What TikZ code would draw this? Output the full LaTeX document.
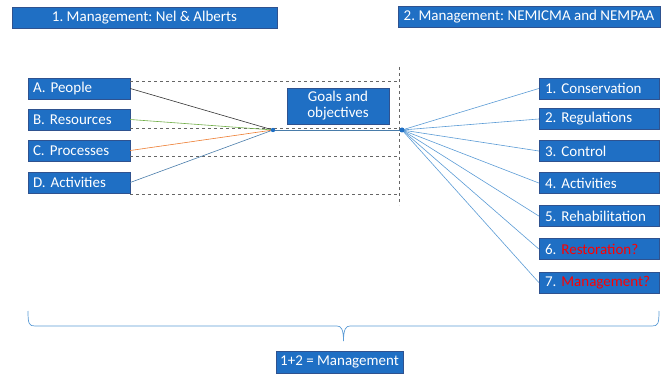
\documentclass[tikz,border=0pt]{standalone}
\usepackage{fontspec}
\setmainfont{Carlito}
\usepackage{xcolor}
\definecolor{boxblue}{HTML}{1F6FC4}
\definecolor{boxline}{HTML}{2F528F}
\definecolor{linkblue}{HTML}{5B9BD5}
\definecolor{linkgreen}{HTML}{70AD47}
\definecolor{linkorange}{HTML}{ED7D31}
\frenchspacing

\begin{document}
\begin{tikzpicture}[x=1pt,y=-1pt,
  box/.style={draw=boxline,fill=boxblue,text=white,font=\fontsize{15}{16}\selectfont,
    minimum height=21pt,inner sep=0pt},
  leftbox/.style={box,text width=92pt,minimum width=102pt,align=left},
  rightbox/.style={box,text width=108pt,minimum width=120pt,align=left},
  guide/.style={gray!80!black,dashed,line width=0.6pt},
  link/.style={line width=0.6pt}]
\useasboundingbox (0,0) rectangle (667,374);

\node[box,minimum width=265pt] (head1) at (144.5,17.5) {1. Management: Nel \& Alberts};
\node[box,minimum width=262pt] (head2) at (529,17) {2. Management: NEMICMA and NEMPAA};

\node[leftbox] (A) at (79,88.5) {A. People};
\node[leftbox] (B) at (79,119.5) {B. Resources};
\node[leftbox] (C) at (79,150.5) {C. Processes};
\node[leftbox] (D) at (79,182.5) {D. Activities};

\node[box,minimum width=102pt,minimum height=36pt,align=center] (goals) at (338,106) {Goals and\\objectives};

\node[rightbox] (r1) at (599,88.5) {1. Conservation};
\node[rightbox] (r2) at (599,119) {2. Regulations};
\node[rightbox] (r3) at (599,151) {3. Control};
\node[rightbox] (r4) at (599,183) {4. Activities};
\node[rightbox] (r5) at (599,216) {5. Rehabilitation};
\node[rightbox] (r6) at (599,249) {6. {\color{red}Restoration?}};
\node[rightbox] (r7) at (599,282.5) {7. {\color{red}Management?}};

\node[box,minimum width=127pt,minimum height=22pt] (total) at (339.5,362) {1+2 = Management};

\coordinate (hubL) at (273,130);
\coordinate (hubR) at (402,130);

\draw[guide] (130,81) -- (399,81);
\draw[guide] (130,128) -- (399,128);
\draw[guide] (130,156) -- (399,156);
\draw[guide] (130,194) -- (399,194);
\draw[guide] (399,67) -- (399,205);

\draw[link,black!80] (A.east) -- (hubL);
\draw[link,linkgreen] (B.east) -- (hubL);
\draw[link,linkorange] (C.east) -- (hubL);
\draw[link,linkblue!80!black] (D.east) -- (hubL);
\draw[link,linkblue!80!black] (hubL) -- (hubR);
\foreach \r in {r1,r2,r3,r4,r5,r6,r7}
  \draw[link,linkblue] (hubR) -- (\r.west);
\fill[boxblue] (hubL) circle (2.2pt);
\fill[boxblue] (hubR) circle (2.5pt);

\draw[linkblue,line width=0.7pt] (28,311) .. controls (28,324) and (29,326) .. (35,326) -- (337,326)
  .. controls (341,326) and (343.5,329) .. (343.5,341)
  .. controls (343.5,329) and (346,326) .. (350,326) -- (652,326)
  .. controls (658,326) and (659,324) .. (659,311);
\end{tikzpicture}
\end{document}
